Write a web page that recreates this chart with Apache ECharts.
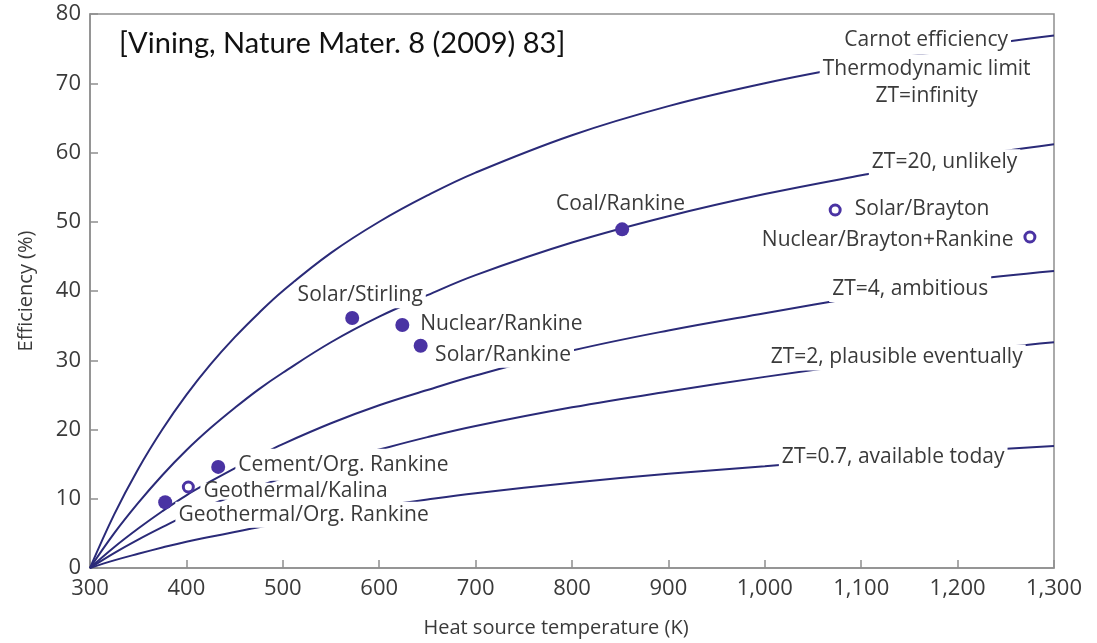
<!DOCTYPE html>
<html>
<head>
<meta charset="utf-8">
<title>Thermoelectric efficiency vs heat source temperature</title>
<script src="https://cdn.jsdelivr.net/npm/echarts@6/dist/echarts.min.js"></script>
<style>
  html, body { margin: 0; padding: 0; background: #ffffff; }
  #chart { width: 1097px; height: 643px; }
</style>
</head>
<body>
<div id="chart"></div>
<script>
// Heat source temperature samples (K), cold side at 300 K
const temps = [300, 325, 350, 375, 400, 425, 450, 475, 500, 550, 600, 650, 700, 800, 900, 1000, 1100, 1200, 1300];

// Efficiency (%) of each limit curve at the temperatures above
const carnot = [0, 7.7, 14.3, 20.0, 25.0, 29.4, 33.3, 36.8, 40.0, 45.5, 50.0, 53.8, 57.1, 62.5, 66.7, 70.0, 72.7, 75.0, 76.9];
const zt20   = [0, 5.0, 9.4, 13.4, 17.0, 20.2, 23.1, 25.8, 28.2, 32.6, 36.3, 39.4, 42.3, 47.0, 50.8, 54.0, 56.7, 59.2, 61.2];
const zt4    = [0, 3.0, 5.7, 8.2, 10.5, 12.5, 14.4, 16.2, 17.9, 20.9, 23.5, 25.7, 27.8, 31.4, 34.3, 36.8, 39.2, 41.4, 42.9];
const zt2    = [0, 2.15, 4.1, 5.9, 7.6, 9.1, 10.5, 11.8, 13.0, 15.2, 17.1, 18.9, 20.5, 23.2, 25.5, 27.6, 29.5, 31.2, 32.6];
const zt07   = [0, 1.1, 2.05, 2.95, 3.8, 4.5, 5.2, 5.9, 6.5, 7.75, 8.9, 9.9, 10.8, 12.3, 13.6, 14.7, 15.8, 16.8, 17.6];

// Power-conversion technologies
const plantNames = ['Geothermal/Org. Rankine', 'Geothermal/Kalina', 'Cement/Org. Rankine',
  'Solar/Stirling', 'Nuclear/Rankine', 'Solar/Rankine', 'Coal/Rankine',
  'Solar/Brayton', 'Nuclear/Brayton+Rankine'];
const plantTemp = [378, 402, 433, 572, 624, 643, 852, 1073, 1275];
const plantEff  = [9.5, 11.7, 14.6, 36.1, 35.1, 32.1, 48.9, 51.7, 47.8];
const plantOpen = [false, true, false, false, false, false, false, true, true];

// Curve captions
const curveCaptions = ['Carnot efficiency', 'Thermodynamic limit', 'ZT=infinity',
  'ZT=20, unlikely', 'ZT=4, ambitious', 'ZT=2, plausible eventually', 'ZT=0.7, available today'];

const citation = '[Vining, Nature Mater. 8 (2009) 83]';

// Where each caption sits, in axis units [K, %]; 'mask' blanks the curve behind the text
const captionPlacement = [
  { at: [1167.4, 76.3], align: 'center', mask: true, lh: 29 },
  { at: [1167.9, 72.1], align: 'center', mask: true, lh: 29 },
  { at: [1167.9, 68.1], align: 'center', mask: true, lh: 29 },
  { at: [1186.5, 58.6], align: 'center', mask: true, lh: 26 },
  { at: [1150.8, 40.3], align: 'center', mask: true, lh: 26 },
  { at: [1136.8, 30.4], align: 'center', mask: true, lh: 26 },
  { at: [1133.2, 16.0], align: 'center', mask: true, lh: 26 }
];
const plantLabelPlacement = [
  { at: [388.6, 7.7],  align: 'left',   mask: true,  lh: 26 },
  { at: [414.5, 11.1], align: 'left',   mask: true,  lh: 17 },
  { at: [450.8, 14.9], align: 'left',   mask: true,  lh: 26, padBottom: 6 },
  { at: [580.3, 39.4], align: 'center', mask: true,  lh: 26 },
  { at: [639.4, 35.3], align: 'left',   mask: false, lh: 26 },
  { at: [654.9, 30.8], align: 'left',   mask: true,  lh: 26 },
  { at: [850.3, 52.5], align: 'center', mask: false, lh: 26 },
  { at: [1090.2, 51.9], align: 'left',  mask: false, lh: 26 },
  { at: [1261.1, 47.3], align: 'right', mask: false, lh: 26 }
];

const CURVE = '#2a2a78';
const DOT = '#4a33a3';
const TEXT = '#3a3a3a';
const AXIS = '#8e8e8e';
const FONT = '"Open Sans", "Noto Sans", sans-serif';

function pairs(ys) { return temps.map((t, i) => [t, ys[i]]); }

function curve(name, ys) {
  return {
    name, type: 'line', data: pairs(ys), smooth: 0.4,
    showSymbol: false, silent: true, z: 2,
    lineStyle: { color: CURVE, width: 2 }
  };
}

function textItem(text, p) {
  const bottom = p.padBottom || 0;
  return {
    value: p.at,
    label: {
      show: true, position: 'inside', formatter: text,
      align: p.align, verticalAlign: 'middle',
      fontFamily: FONT, fontSize: 21, color: TEXT, lineHeight: p.lh,
      backgroundColor: p.mask ? '#ffffff' : 'transparent',
      padding: [0, 3, bottom, 3]
    }
  };
}

// Kalina caption drawn last so its glyphs sit above the cement caption's mask
const plantOrder = [0, 2, 1, 3, 4, 5, 6, 7, 8];
const textData = curveCaptions.map((c, i) => textItem(c, captionPlacement[i]))
  .concat(plantOrder.map(i => textItem(plantNames[i], plantLabelPlacement[i])));

const chart = echarts.init(document.getElementById('chart'), null, { renderer: 'canvas' });

chart.setOption({
  animation: false,
  backgroundColor: '#ffffff',
  textStyle: { fontFamily: FONT },
  grid: {
    left: 90, right: 43, top: 14, bottom: 71,
    show: true, borderColor: AXIS, borderWidth: 1.5, backgroundColor: 'transparent'
  },
  graphic: [{
    type: 'text', left: 119, top: 29, silent: true,
    style: { text: citation, fontFamily: 'Lato, "Open Sans", sans-serif', fontSize: 29, fill: '#111111' }
  }],
  xAxis: {
    type: 'value', min: 300, max: 1300, interval: 100,
    name: 'Heat source temperature (K)', nameLocation: 'middle', nameGap: 50,
    nameTextStyle: { fontFamily: FONT, fontSize: 20, color: TEXT, padding: [0, 32, 0, 0] },
    axisLine: { show: true, lineStyle: { color: AXIS, width: 1.5 } },
    axisTick: { show: true, inside: true, length: 8, lineStyle: { color: AXIS, width: 1.5 } },
    axisLabel: {
      margin: 10, fontFamily: FONT, fontSize: 22, color: TEXT,
      formatter: v => v.toLocaleString('en-US')
    },
    splitLine: { show: false }
  },
  yAxis: {
    type: 'value', min: 0, max: 80, interval: 10,
    name: 'Efficiency (%)', nameLocation: 'middle', nameGap: 54, nameRotate: 90,
    nameTextStyle: { fontFamily: FONT, fontSize: 20, color: TEXT },
    axisLine: { show: true, lineStyle: { color: AXIS, width: 1.5 } },
    axisTick: { show: true, inside: true, length: 8, lineStyle: { color: AXIS, width: 1.5 } },
    axisLabel: { margin: 9, fontFamily: FONT, fontSize: 22, color: TEXT },
    splitLine: { show: false }
  },
  series: [
    curve('Carnot', carnot),
    curve('ZT=20', zt20),
    curve('ZT=4', zt4),
    curve('ZT=2', zt2),
    curve('ZT=0.7', zt07),
    {
      name: 'captions', type: 'scatter', silent: true, z: 3,
      symbolSize: 1, itemStyle: { color: 'rgba(0,0,0,0)', opacity: 1 },
      data: textData
    },
    {
      name: 'plants', type: 'scatter', silent: true, z: 4,
      symbol: 'circle',
      data: plantTemp.map((t, i) => ({
        value: [t, plantEff[i]],
        symbolSize: plantOpen[i] ? 10 : 14,
        itemStyle: plantOpen[i]
          ? { color: '#ffffff', borderColor: DOT, borderWidth: 3, opacity: 1 }
          : { color: DOT, borderWidth: 0, opacity: 1 }
      }))
    }
  ]
});
</script>
</body>
</html>
